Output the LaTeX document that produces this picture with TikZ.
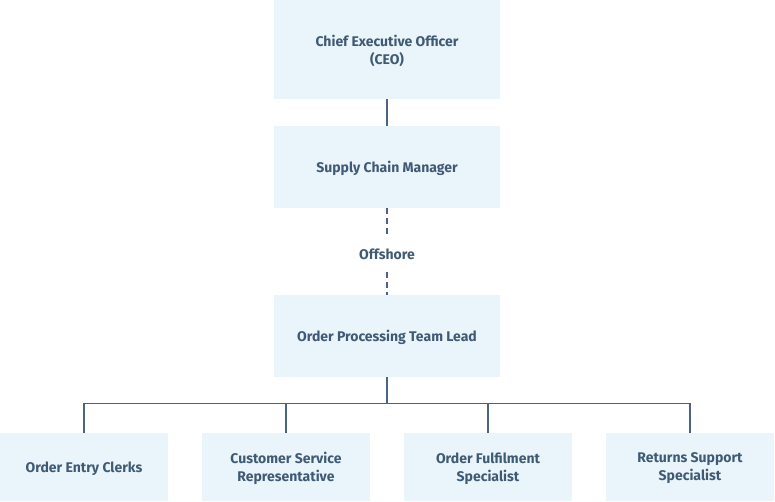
\documentclass[tikz,border=0pt]{standalone}
\usepackage{fontspec}
\setmainfont{Fira Sans}
\definecolor{boxfill}{HTML}{EAF4FB}
\definecolor{txt}{HTML}{3F5A74}
\definecolor{ln}{HTML}{4A6580}
\begin{document}
\begin{tikzpicture}[x=0.75pt,y=-0.75pt,
  orgbox/.style={fill=boxfill,draw=none,inner sep=0pt,text=txt,align=center,text depth=-2.2pt,
    font=\fontsize{10.5pt}{13.5pt}\selectfont\bfseries},
  conn/.style={draw=ln,line width=1.1pt},
  dconn/.style={draw=ln,line width=1.1pt,dash pattern=on 4.5pt off 3pt}]
\useasboundingbox (0,0) rectangle (775,501);
\node[orgbox,minimum width=226*0.75pt,minimum height=99*0.75pt] (ceo) at (387,49.5) {Chief Executive Officer\\(CEO)};
\node[orgbox,minimum width=226*0.75pt,minimum height=82*0.75pt] (scm) at (387,167) {Supply Chain Manager};
\node[orgbox,minimum width=226*0.75pt,minimum height=82*0.75pt] (optl) at (387,336) {Order Processing Team Lead};
\node[text=txt,font=\fontsize{10.5pt}{13.5pt}\selectfont\bfseries,inner sep=1pt] (off) at (387,254) {Offshore};
\node[orgbox,minimum width=168*0.75pt,minimum height=68*0.75pt] (b1) at (84,467) {Order Entry Clerks};
\node[orgbox,minimum width=168*0.75pt,minimum height=68*0.75pt] (b2) at (286,467) {Customer Service\\Representative};
\node[orgbox,minimum width=168*0.75pt,minimum height=68*0.75pt] (b3) at (488,467) {Order Fulfilment\\Specialist};
\node[orgbox,minimum width=168*0.75pt,minimum height=68*0.75pt] (b4) at (690,467) {Returns Support\\Specialist};
\coordinate (bus) at (387,403.5);
\draw[conn] (ceo.south) -- (scm.north);
\draw[dconn] (scm.south) -- (387,236);
\draw[dconn] (387,272) -- (optl.north);
\draw[conn] (optl.south) -- (bus);
\draw[conn] (b1.north) |- (bus) -| (b4.north);
\draw[conn] (b2.north) -- (b2.north |- bus);
\draw[conn] (b3.north) -- (b3.north |- bus);
\end{tikzpicture}
\end{document}
